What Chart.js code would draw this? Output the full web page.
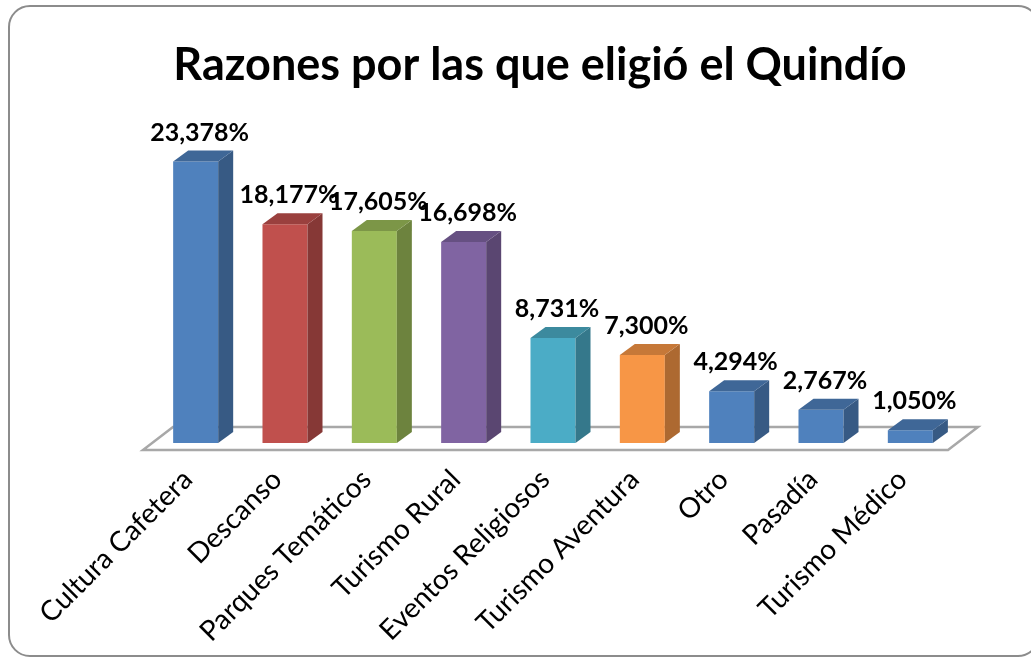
<!DOCTYPE html>
<html>
<head>
<meta charset="utf-8">
<script src="https://cdn.jsdelivr.net/npm/chart.js@4"></script>
<style>
  html, body { margin: 0; padding: 0; background: #fff; overflow: hidden; }
  #wrap { position: relative; width: 1031px; height: 658px; overflow: hidden; }
  #frame { position: absolute; left: 8px; top: 5px; width: 1032px; height: 652px; box-sizing: border-box;
           border: 2px solid #8c8c8c; border-radius: 22px; }
  canvas { position: absolute; left: 0; top: 0; }
</style>
</head>
<body>
<div id="wrap">
  <div id="frame"></div>
  <canvas id="myChart" width="1031" height="658"></canvas>
</div>
<script>
const categories = ['Cultura Cafetera', 'Descanso', 'Parques Temáticos', 'Turismo Rural', 'Eventos Religiosos',
                    'Turismo Aventura', 'Otro', 'Pasadía', 'Turismo Médico'];
const percentages = [23.378, 18.177, 17.605, 16.698, 8.731, 7.300, 4.294, 2.767, 1.050];
const yTicks = { min: 0, max: 25 };

const faceColors = ['#4F81BD', '#C0504D', '#9BBB59', '#8064A2', '#4BACC6', '#F79646', '#4F81BD', '#4F81BD', '#4F81BD'];

function shade(hex, f) {
  const n = parseInt(hex.slice(1), 16);
  const r = Math.round(((n >> 16) & 255) * f);
  const g = Math.round(((n >> 8) & 255) * f);
  const b = Math.round((n & 255) * f);
  return `rgb(${r},${g},${b})`;
}

const fmt = v => v.toFixed(3).replace('.', ',') + '%';

// fake 3d: floor plate, side + top faces, value labels
const DX = 15, DY = -11;
const box3d = {
  id: 'box3d',
  beforeDatasetsDraw(chart) {
    const { ctx, chartArea: a } = chart;
    ctx.save();
    ctx.beginPath();
    ctx.moveTo(a.left - 8, a.bottom + 7);
    ctx.lineTo(a.right - 7, a.bottom + 7);
    ctx.lineTo(a.right + 23, a.bottom - 16);
    ctx.lineTo(a.left + 22, a.bottom - 16);
    ctx.closePath();
    ctx.fillStyle = '#fff';
    ctx.fill();
    ctx.strokeStyle = '#a8a8a8';
    ctx.lineWidth = 2.5;
    ctx.stroke();
    ctx.restore();
  },
  afterDatasetsDraw(chart) {
    const { ctx } = chart;
    const meta = chart.getDatasetMeta(0);
    ctx.save();
    meta.data.forEach((bar, i) => {
      const { x, y, base, width } = bar.getProps(['x', 'y', 'base', 'width'], true);
      const l = x - width / 2, r = x + width / 2;
      const c = faceColors[i];
      ctx.beginPath();
      ctx.moveTo(r, y);
      ctx.lineTo(r + DX, y + DY);
      ctx.lineTo(r + DX, base + DY);
      ctx.lineTo(r, base);
      ctx.closePath();
      ctx.fillStyle = shade(c, 0.7);
      ctx.fill();
      ctx.beginPath();
      ctx.moveTo(l, y);
      ctx.lineTo(l + DX, y + DY);
      ctx.lineTo(r + DX, y + DY);
      ctx.lineTo(r, y);
      ctx.closePath();
      ctx.fillStyle = shade(c, 0.8);
      ctx.fill();
    });
    ctx.font = 'bold 25px Lato';
    ctx.fillStyle = '#000';
    ctx.textAlign = 'center';
    ctx.textBaseline = 'alphabetic';
    meta.data.forEach((bar, i) => {
      ctx.fillText(fmt(percentages[i]), bar.x + 4, bar.y - 21);
    });
    ctx.restore();
  }
};

async function draw() {
  try {
    await Promise.all([document.fonts.load('bold 45px Lato'), document.fonts.load('28px Lato')]);
  } catch (e) {
    console.log(e);
  }
  new Chart(document.getElementById('myChart'), {
    type: 'bar',
    data: {
      labels: categories,
      datasets: [{
        data: percentages,
        backgroundColor: faceColors,
        borderWidth: 0,
        barPercentage: 0.504,
        categoryPercentage: 1
      }]
    },
    options: {
      responsive: false,
      animation: false,
      events: [],
      layout: { padding: { left: 125, right: 76, top: 0, bottom: 0 } },
      plugins: {
        legend: { display: false },
        tooltip: { enabled: false },
        title: {
          display: true,
          text: 'Razones por las que eligió el Quindío',
          color: '#000',
          font: { family: 'Lato', size: 45, weight: 'bold' },
          padding: { top: 38, bottom: 50 }
        }
      },
      scales: {
        x: {
          grid: { display: false, drawTicks: false },
          border: { display: false },
          ticks: {
            color: '#000',
            font: { family: 'Lato', size: 28 },
            minRotation: 45,
            maxRotation: 45,
            autoSkip: false,
            padding: 20,
            labelOffset: -8
          },
          afterFit(s) { s.height = 215; }
        },
        y: {
          min: yTicks.min,
          max: yTicks.max,
          grid: { display: false },
          border: { display: false },
          ticks: { display: false },
          afterFit(s) { s.width = 26; }
        }
      }
    },
    plugins: [box3d]
  });
}
draw();
</script>
</body>
</html>
